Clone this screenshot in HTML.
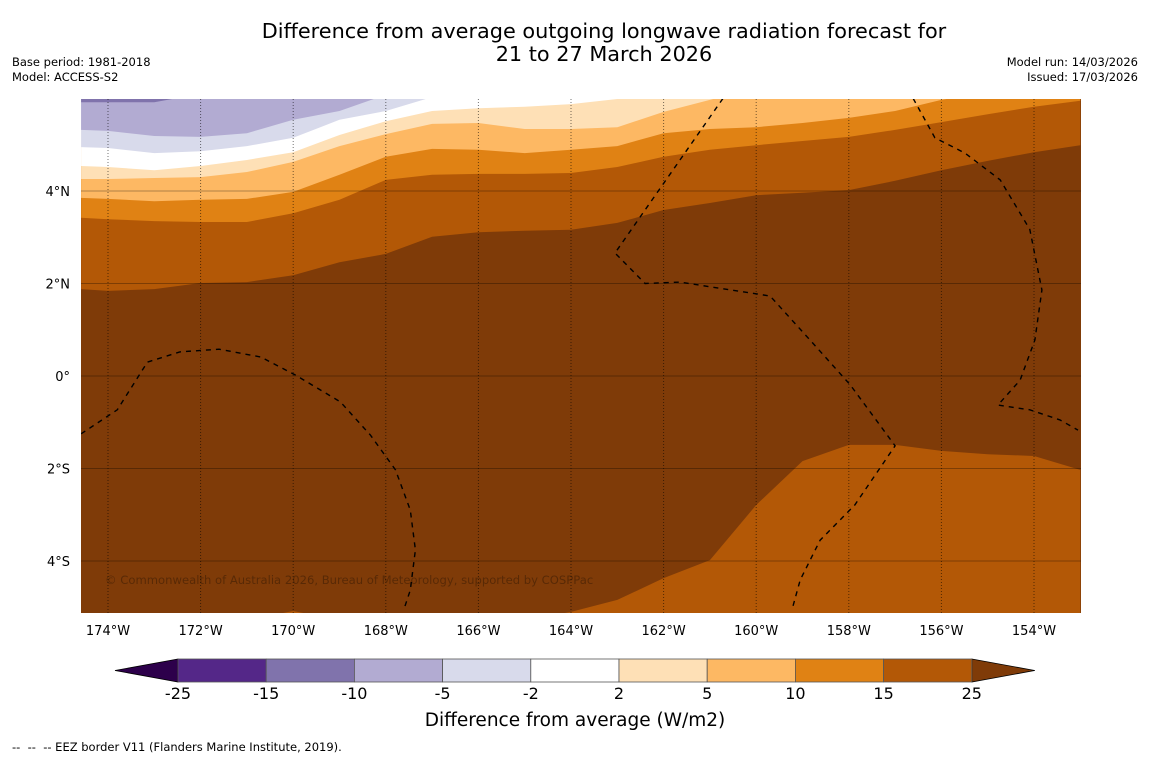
<!DOCTYPE html>
<html><head><meta charset="utf-8"><style>
html,body{margin:0;padding:0;background:#fff;width:1150px;height:758px;overflow:hidden}
svg{display:block;font-family:"DejaVu Sans","Liberation Sans",sans-serif}
</style></head><body>
<svg id="chart" width="1150" height="758" viewBox="0 0 1150 758" xmlns="http://www.w3.org/2000/svg">
<defs><clipPath id="mapclip"><rect x="81" y="99" width="1000" height="514"/></clipPath></defs>
<text x="604" y="38" text-anchor="middle" font-size="20.8">Difference from average outgoing longwave radiation forecast for</text>
<text x="604" y="61" text-anchor="middle" font-size="20.8">21 to 27 March 2026</text>
<text x="12" y="66" font-size="11.5">Base period: 1981-2018</text>
<text x="12" y="81" font-size="11.5">Model: ACCESS-S2</text>
<text x="1138" y="66" text-anchor="end" font-size="11.5">Model run: 14/03/2026</text>
<text x="1138" y="81" text-anchor="end" font-size="11.5">Issued: 17/03/2026</text>
<g id="map" clip-path="url(#mapclip)"></g>
<g id="overlay"></g>
<g id="cbar"></g>
<text x="575" y="726" text-anchor="middle" font-size="18.5">Difference from average (W/m2)</text>
<text x="12" y="751" font-size="11.5" xml:space="preserve">--  --  -- EEZ border V11 (Flanders Marine Institute, 2019).</text>
</svg>
<script>
const lons = [-174.58,-174,-173,-172,-171,-170,-169,-168,-167,-166,-165,-164,-163,-162,-161,-160,-159,-158,-157,-156,-155,-154,-153];
const c25N = [1.88,1.84,1.88,2.01,2.03,2.18,2.46,2.64,3.01,3.11,3.14,3.16,3.31,3.59,3.74,3.91,3.96,4.02,4.22,4.45,4.65,4.84,4.99];
const c15N = [3.42,3.39,3.35,3.33,3.33,3.52,3.81,4.24,4.35,4.37,4.37,4.39,4.52,4.74,4.89,4.99,5.08,5.17,5.32,5.49,5.66,5.82,5.95];
const c10N = [3.85,3.83,3.78,3.81,3.83,3.98,4.35,4.74,4.91,4.89,4.82,4.89,4.97,5.25,5.34,5.38,5.47,5.58,5.73,5.97,6.14,6.29,6.44];
const c5N  = [4.26,4.26,4.28,4.30,4.41,4.63,4.97,5.23,5.45,5.47,5.34,5.34,5.38,5.71,5.97,6.23,6.4,6.5,6.6,6.7,6.7,6.8,6.8];
const c2N  = [4.54,4.52,4.45,4.54,4.67,4.84,5.21,5.51,5.73,5.79,5.82,5.88,5.99,6.18,6.3,6.4,6.5,6.6,6.7,6.8,6.9,7,7];
const cm2N = [4.95,4.93,4.82,4.86,4.97,5.15,5.54,5.73,6.03,6.3,6.6,6.8,7,7,7,7,7,7,7,7,7,7,7];
const cm5N = [5.32,5.30,5.19,5.17,5.25,5.54,5.73,6.08,6.4,6.7,7,7,7,7,7,7,7,7,7,7,7,7,7];
const cm10N= [5.92,5.92,5.92,6.1,6.4,6.7,7,7,7,7,7,7,7,7,7,7,7,7,7,7,7,7,7];
const c25S = [-5.28,-5.28,-5.28,-5.28,-5.28,-5.08,-5.28,-5.28,-5.28,-5.28,-5.28,-5.10,-4.84,-4.37,-3.98,-2.79,-1.84,-1.49,-1.49,-1.62,-1.69,-1.73,-2.03];
const levels = [-25,-15,-10,-5,-2,2,5,10,15,25];
const bandColors = ["#542788","#8073ac","#b2abd2","#d8daeb","#ffffff","#fee0b6","#fdb863","#e08214","#b35806"];
const underColor = "#2d004b", overColor = "#7f3b08";
const lonTicks = [-174,-172,-170,-168,-166,-164,-162,-160,-158,-156,-154];
const latTicks = [4,2,0,-2,-4];
const latTickLabels = ["4°N","2°N","0°","2°S","4°S"];
const eezLeft = [[-174.58,-1.25],[-173.8,-0.73],[-173.15,0.3],[-172.45,0.52],[-171.6,0.58],[-170.7,0.41],[-169.95,0.02],[-168.98,-0.56],[-168.33,-1.28],[-167.79,-2.03],[-167.47,-2.9],[-167.36,-3.76],[-167.47,-4.63],[-167.6,-5.02]];
const eezMid = [[-160.72,6.0],[-163.05,2.66],[-162.40,2.0],[-161.65,2.03],[-159.70,1.73],[-158.84,0.78],[-157.97,-0.19],[-157.0,-1.51],[-157.87,-2.79],[-158.62,-3.55],[-159.05,-4.41],[-159.23,-5.06]];
const eezRight = [[-156.61,6.0],[-156.14,5.15],[-155.49,4.82],[-154.73,4.24],[-154.09,3.17],[-153.83,1.86],[-153.98,0.78],[-154.30,-0.09],[-154.78,-0.63],[-154.09,-0.73],[-153.44,-0.95],[-153.05,-1.17]];

const NS = "http://www.w3.org/2000/svg";
const xs = lon => 108 + (lon + 174) * 46.3;
const ys = lat => 376 - lat * 46.25;
function mk(tag, attrs, parent){ const e=document.createElementNS(NS,tag); for(const k in attrs) e.setAttribute(k,attrs[k]); parent.appendChild(e); return e; }
const map = document.getElementById('map');
const overlay = document.getElementById('overlay');
const cbar = document.getElementById('cbar');

const bg = mk('rect',{x:81,y:99,width:1000,height:514,fill:overColor},map);



function northBand(lats, color, name){
  let d = lons.map((lo,i)=>(i?'L':'M')+xs(lo).toFixed(1)+','+ys(lats[i]).toFixed(1)).join(' ');
  d += ' L'+xs(lons[lons.length-1]).toFixed(1)+',60 L'+xs(lons[0]).toFixed(1)+',60 Z';
  const p = mk('path',{d:d,fill:color},map);
  
  
}
northBand(c25N, bandColors[8], 'band-15-to-25-north');
northBand(c15N, bandColors[7], 'band-10-to-15');
northBand(c10N, bandColors[6], 'band-5-to-10');
northBand(c5N,  bandColors[5], 'band-2-to-5');
northBand(c2N,  bandColors[4], 'band-minus2-to-2');
northBand(cm2N, bandColors[3], 'band-minus5-to-minus2');
northBand(cm5N, bandColors[2], 'band-minus10-to-minus5');
northBand(cm10N,bandColors[1], 'band-minus15-to-minus10');
{
  let d = lons.map((lo,i)=>(i?'L':'M')+xs(lo).toFixed(1)+','+ys(c25S[i]).toFixed(1)).join(' ');
  d += ' L'+xs(lons[lons.length-1]).toFixed(1)+',640 L'+xs(lons[0]).toFixed(1)+',640 Z';
  const p = mk('path',{d:d,fill:bandColors[8]},map);
  
  
}
lonTicks.forEach(lo=>{
  const l = mk('line',{x1:xs(lo),x2:xs(lo),y1:99,y2:613,stroke:'#000','stroke-opacity':0.55,'stroke-width':1,'stroke-dasharray':'1,2'},map);
  
  
  const t = mk('text',{x:xs(lo),y:635,'text-anchor':'middle','font-size':13},overlay);
  t.textContent = Math.abs(lo)+'°W';
  
  
});
latTicks.forEach((la,i)=>{
  const l = mk('line',{x1:81,x2:1081,y1:ys(la),y2:ys(la),stroke:'#000','stroke-opacity':0.3,'stroke-width':1},map);
  
  
  const t = mk('text',{x:70,y:ys(la)+5,'text-anchor':'end','font-size':13},overlay);
  t.textContent = latTickLabels[i];
  
  
});
[[eezLeft,'eez-border-left'],[eezMid,'eez-border-middle'],[eezRight,'eez-border-right']].forEach(([pts,name])=>{
  const d = pts.map((p,i)=>(i?'L':'M')+xs(p[0]).toFixed(1)+','+ys(p[1]).toFixed(1)).join(' ');
  const p = mk('path',{d:d,fill:'none',stroke:'#000','stroke-width':1.4,'stroke-dasharray':'5,5'},map);
  
  
});
const cp = mk('text',{x:105,y:584,'font-size':11.6,fill:'#000','fill-opacity':0.3},map);
cp.textContent = '© Commonwealth of Australia 2026, Bureau of Meteorology, supported by COSPPac';



const cbX0 = 178, cbW = 88.2, cbY = 659, cbH = 23;
const under = mk('path',{d:`M${cbX0},${cbY} L115,${cbY+cbH/2} L${cbX0},${cbY+cbH} Z`,fill:underColor,stroke:'#000','stroke-width':0.8},cbar);


const endX = cbX0 + cbW*bandColors.length;
const over = mk('path',{d:`M${endX},${cbY} L${endX+63},${cbY+cbH/2} L${endX},${cbY+cbH} Z`,fill:overColor,stroke:'#000','stroke-width':0.8},cbar);


bandColors.forEach((c,i)=>{
  const r = mk('rect',{x:cbX0+i*cbW,y:cbY,width:cbW,height:cbH,fill:c,stroke:'#555','stroke-width':0.8},cbar);
  
  
});
levels.forEach((lv,i)=>{
  const t = mk('text',{x:cbX0+i*cbW,y:699,'text-anchor':'middle','font-size':16},cbar);
  t.textContent = lv;
  
  
});
</script>
</body></html>
